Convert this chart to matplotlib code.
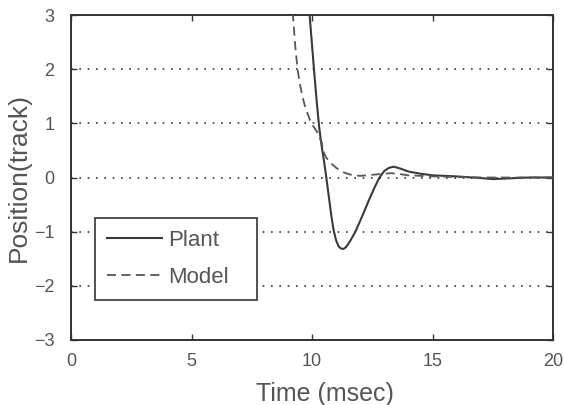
import matplotlib
matplotlib.use("Agg")
import matplotlib.pyplot as plt

plant_t = [9.9, 10.0, 10.1, 10.2, 10.3, 10.4, 10.5, 10.6, 10.7, 10.8, 10.9, 11.0, 11.1, 11.2,
           11.3, 11.4, 11.5, 11.6, 11.7, 11.8, 12.0, 12.2, 12.4, 12.6, 12.8, 13.0, 13.2, 13.4,
           13.7, 14.0, 14.5, 15.0, 16.0, 17.0, 17.5, 18.0, 19.0, 20.0]
plant_y = [3.0, 2.45, 1.9, 1.38, 0.92, 0.58, 0.3, -0.02, -0.36, -0.7, -0.98, -1.16, -1.27, -1.31,
           -1.32, -1.29, -1.23, -1.16, -1.08, -1.0, -0.8, -0.59, -0.38, -0.18, 0.0, 0.12, 0.18, 0.2,
           0.16, 0.11, 0.07, 0.04, 0.02, -0.01, -0.03, -0.02, 0.0, 0.0]

model_t = [9.2, 9.3, 9.4, 9.5, 9.6, 9.7, 9.8, 9.9, 10.0, 10.2, 10.4, 10.5, 10.6, 10.8, 11.0,
           11.2, 11.4, 11.7, 12.0, 12.5, 13.0, 13.3, 13.7, 14.0, 15.0, 16.0, 17.0, 18.0, 20.0]
model_y = [3.05, 2.45, 2.0, 1.72, 1.5, 1.33, 1.2, 1.08, 0.98, 0.85, 0.65, 0.45, 0.36, 0.26, 0.18,
           0.12, 0.08, 0.04, 0.03, 0.05, 0.07, 0.08, 0.06, 0.04, 0.02, 0.01, 0.0, 0.0, 0.0]

x_ticks = [0, 5, 10, 15, 20]
y_ticks = [-3, -2, -1, 0, 1, 2, 3]
grid_levels = [-2, -1, 0, 1, 2]

plt.rcParams['font.family'] = ['Liberation Sans', 'DejaVu Sans']

fig = plt.figure(figsize=(5.64, 4.05), dpi=100)
ax = fig.add_axes([71 / 564, 65 / 405, 482 / 564, 325 / 405])

for g in grid_levels:
    ax.axhline(g, color='#333333', linestyle=(0, (1, 4)), linewidth=1.2, zorder=1)

ax.plot(plant_t, plant_y, color='#3a3a3a', linewidth=1.5, label='Plant', zorder=3)
ax.plot(model_t, model_y, color='#555555', linewidth=1.3, linestyle=(0, (5, 3)), label='Model', zorder=3)

ax.set_xlim(0, 20)
ax.set_ylim(-3, 3)
ax.set_xticks(x_ticks)
ax.set_yticks(y_ticks)
ax.tick_params(direction='in', length=4, width=1, colors='#333333', labelcolor='#555555',
               labelsize=13, top=True, right=True)
ax.tick_params(axis='y', pad=12)
ax.tick_params(axis='x', pad=9)
for s in ax.spines.values():
    s.set_linewidth(1.4)
    s.set_color('#333333')

ax.set_xlabel('Time (msec)', fontsize=18, color='#555555')
ax.xaxis.set_label_coords((325 - 71) / 482, -0.13)
ax.set_ylabel('Position(track)', fontsize=19, color='#555555', labelpad=2)

leg = ax.legend(loc='lower left', bbox_to_anchor=(0.050, 0.123, 0.336, 0.25), mode='expand',
                borderaxespad=0, fontsize=16, handlelength=2.45, fancybox=False, framealpha=1,
                edgecolor='#333333', borderpad=0.55, labelspacing=0.7, handletextpad=0.3)
for txt in leg.get_texts():
    txt.set_color('#555555')
leg.get_frame().set_linewidth(1.2)

fig.savefig('out.png', dpi=100)
